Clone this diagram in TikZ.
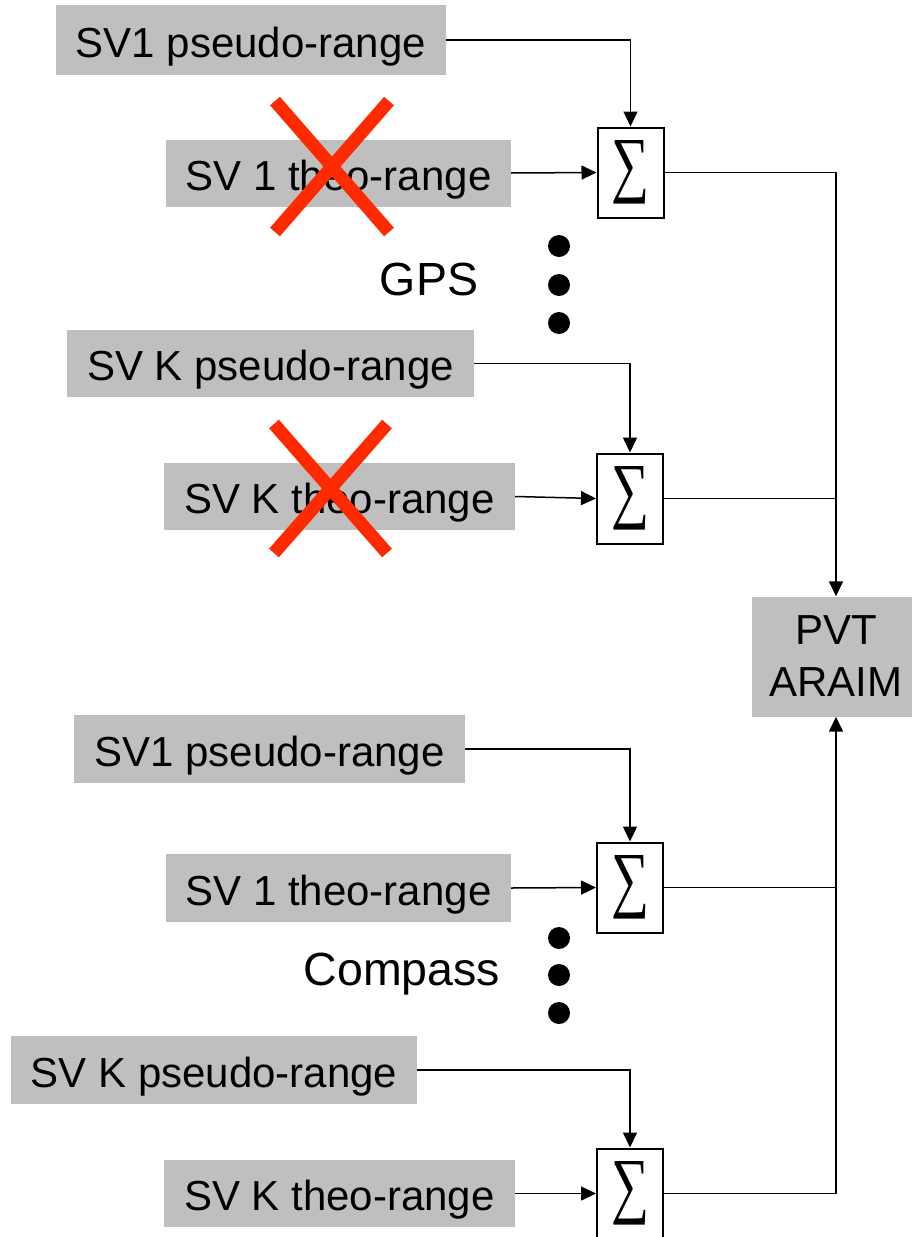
\documentclass[tikz,border=0pt]{standalone}
\usepackage{fontspec}
\usepackage{graphicx}
\setmainfont{Liberation Sans}
\newfontfamily\sumfont{Liberation Serif}
\usetikzlibrary{arrows.meta}
\definecolor{boxgray}{HTML}{BFBFBF}
\definecolor{xred}{HTML}{FF2A00}
\newcommand{\sumsign}{\resizebox{38pt}{48pt}{\sumfont ∑}}
\begin{document}
\begin{tikzpicture}[x=1pt,y=-1pt,
  lbl/.style={fill=boxgray,inner sep=0pt,text height=34pt,text depth=0pt,font=\fontsize{42}{50}\selectfont},
  sumbox/.style={draw,line width=2pt,fill=white,inner sep=0pt,minimum width=66pt,minimum height=90pt},
  conn/.style={line width=1.5pt},
  arr/.style={conn,-{Triangle[length=15pt,width=14pt]}},
  txt/.style={inner sep=0pt,anchor=base,font=\fontsize{46.5}{52}\selectfont},
  cross/.style={xred,line width=13pt}]
\useasboundingbox (0,0) rectangle (911,1237);
% GPS
\node[lbl,minimum width=390pt,minimum height=70pt] (p1) at (251,40) {SV1 pseudo-range};
\node[lbl,minimum width=345pt,minimum height=67pt] (t1) at (338.5,173) {SV 1 theo-range};
\node[sumbox] (s1) at (630.5,172.5) {\sumsign};
\node[txt] (gps) at (429,295) {GPS};
\node[lbl,minimum width=407pt,minimum height=67pt] (p2) at (270.5,363.5) {SV K pseudo-range};
\node[lbl,minimum width=351pt,minimum height=67pt] (t2) at (339.5,496.5) {SV K theo-range};
\node[sumbox] (s2) at (630,498.5) {\sumsign};
% PVT
\node[fill=boxgray,inner sep=0pt,minimum width=168pt,minimum height=120pt,align=center,font=\fontsize{42}{52}\selectfont] (pvt) at (836,656.5) {PVT\\ARAIM};
% Compass
\node[lbl,minimum width=391pt,minimum height=68pt] (p3) at (269.5,749) {SV1 pseudo-range};
\node[lbl,minimum width=345pt,minimum height=68pt] (t3) at (338.5,888) {SV 1 theo-range};
\node[sumbox] (s3) at (630,887.5) {\sumsign};
\node[txt] (cmp) at (402,985) {Compass};
\node[lbl,minimum width=406pt,minimum height=68pt] (p4) at (214,1070) {SV K pseudo-range};
\node[lbl,minimum width=351pt,minimum height=67pt] (t4) at (339.5,1193.5) {SV K theo-range};
\node[sumbox] (s4) at (630,1193.5) {\sumsign};
% dots
\foreach \yy in {246,285,323,938,975,1013} \fill (559,\yy) circle (11pt);
% crosses
\draw[cross] (275,101) -- (389,232) (389,101) -- (275,232);
\draw[cross] (274,424) -- (387,553) (387,424) -- (274,553);
% connectors
\draw[arr] (p1.east) -| (s1.north);
\draw[arr] (t1.east) -- (s1.west);
\draw[arr] (p2.east) -| (s2.north);
\draw[arr] (t2.east) -- (s2.west);
\draw[arr] (p3.east) -| (s3.north);
\draw[arr] (t3.east) -- (s3.west);
\draw[arr] (p4.east) -| (s4.north);
\draw[arr] (t4.east) -- (s4.west);
\draw[arr] (s1.east) -| (pvt.north);
\draw[conn] (s2.east) -- (s2.east -| pvt.north);
\draw[arr] (s4.east) -| (pvt.south);
\draw[conn] (s3.east) -- (s3.east -| pvt.south);
\end{tikzpicture}
\end{document}
